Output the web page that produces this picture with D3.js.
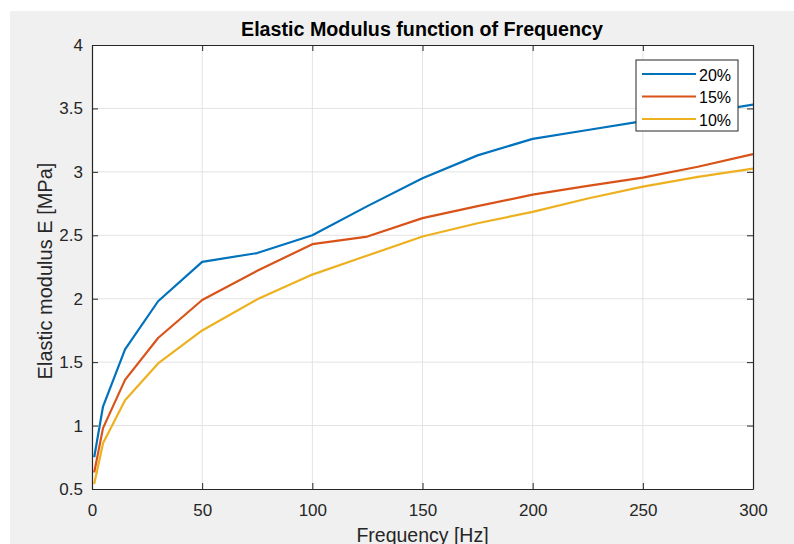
<!DOCTYPE html>
<html>
<head>
<meta charset="utf-8">
<script src="https://cdn.jsdelivr.net/npm/d3@7"></script>
<style>
  body { margin: 0; background: #fff; }
  svg { display: block; font-family: "Liberation Sans", Arial, sans-serif; }
</style>
</head>
<body>
<div id="chart"></div>
<script>
// Data
const frequency = [1, 5, 15, 30, 50, 75, 100, 125, 150, 175, 200, 225, 250, 275, 300];
const e20 = [0.75, 1.15, 1.60, 1.98, 2.29, 2.36, 2.50, 2.73, 2.95, 3.13, 3.26, 3.33, 3.40, 3.46, 3.53];
const e15 = [0.63, 0.98, 1.36, 1.69, 1.99, 2.22, 2.43, 2.49, 2.635, 2.73, 2.82, 2.89, 2.955, 3.04, 3.14];
const e10 = [0.54, 0.86, 1.20, 1.49, 1.75, 1.995, 2.19, 2.34, 2.49, 2.595, 2.685, 2.79, 2.883, 2.96, 3.025];
const seriesNames = ["20%", "15%", "10%"];
const seriesColors = ["#0072BD", "#D95319", "#EDB120"];
const xTicks = [0, 50, 100, 150, 200, 250, 300];
const yTicks = [0.5, 1, 1.5, 2, 2.5, 3, 3.5, 4];

const width = 794;
const height = 544;
const plot = { left: 92, top: 45, right: 753, bottom: 489 };

const svg = d3.select("#chart")
    .append("svg")
    .attr("width", width)
    .attr("height", height);

// figure background
svg.append("rect")
    .attr("x", 10).attr("y", 11)
    .attr("width", width - 10).attr("height", height - 11)
    .attr("fill", "#f0f0f0");

const x = d3.scaleLinear().domain([0, 300]).range([plot.left, plot.right]);
const y = d3.scaleLinear().domain([0.5, 4]).range([plot.bottom, plot.top]);

svg.append("rect")
    .attr("x", plot.left).attr("y", plot.top)
    .attr("width", plot.right - plot.left).attr("height", plot.bottom - plot.top)
    .attr("fill", "#fff");

// grid
const grid = svg.append("g").attr("stroke", "#e3e3e3").attr("stroke-width", 1);
grid.selectAll("line.vx")
    .data(xTicks.slice(1, -1))
    .join("line")
    .attr("x1", d => x(d)).attr("x2", d => x(d))
    .attr("y1", plot.top).attr("y2", plot.bottom);
grid.selectAll("line.hy")
    .data(yTicks.slice(1, -1))
    .join("line")
    .attr("y1", d => y(d)).attr("y2", d => y(d))
    .attr("x1", plot.left).attr("x2", plot.right);

// lines
const line = d3.line()
    .x((d, i) => x(frequency[i]))
    .y(d => y(d));

[e20, e15, e10].forEach((vals, k) => {
    svg.append("path")
        .datum(vals)
        .attr("fill", "none")
        .attr("stroke", seriesColors[k])
        .attr("stroke-width", 2.2)
        .attr("stroke-linejoin", "round")
        .attr("d", line);
});

// axes (ticks inward, box)
const axisColor = "#262626";
const xAxis = d3.axisBottom(x).tickValues(xTicks).tickSizeInner(-6).tickSizeOuter(0).tickPadding(15);
const yAxis = d3.axisLeft(y).tickValues(yTicks).tickSizeInner(-6).tickSizeOuter(0).tickPadding(9)
    .tickFormat(d3.format("~g"));

const gx = svg.append("g").attr("transform", `translate(0,${plot.bottom})`).call(xAxis);
const gy = svg.append("g").attr("transform", `translate(${plot.left},0)`).call(yAxis);
const gxTop = svg.append("g").attr("transform", `translate(0,${plot.top})`)
    .call(d3.axisTop(x).tickValues(xTicks).tickSizeInner(-6).tickSizeOuter(0).tickFormat(""));
const gyRight = svg.append("g").attr("transform", `translate(${plot.right},0)`)
    .call(d3.axisRight(y).tickValues(yTicks).tickSizeInner(-6).tickSizeOuter(0).tickFormat(""));

[gx, gy, gxTop, gyRight].forEach(g => {
    g.selectAll("path.domain").attr("stroke", axisColor).attr("stroke-width", 1.2);
    g.selectAll(".tick line").attr("stroke", axisColor);
    g.selectAll(".tick text").attr("fill", axisColor).style("font-size", "17px");
});

// title
svg.append("text")
    .attr("x", 422)
    .attr("y", 36)
    .attr("text-anchor", "middle")
    .attr("font-weight", "bold")
    .attr("font-size", 20)
    .attr("textLength", 362)
    .attr("lengthAdjust", "spacingAndGlyphs")
    .attr("fill", "#000")
    .text("Elastic Modulus function of Frequency");

// axis labels
svg.append("text")
    .attr("x", (plot.left + plot.right) / 2)
    .attr("y", 542)
    .attr("text-anchor", "middle")
    .attr("font-size", 19.5)
    .attr("fill", axisColor)
    .text("Frequency [Hz]");

svg.append("text")
    .attr("transform", `translate(52,271) rotate(-90)`)
    .attr("text-anchor", "middle")
    .attr("font-size", 20)
    .attr("fill", axisColor)
    .text("Elastic modulus E [MPa]");

// legend
const legend = svg.append("g").attr("transform", "translate(636,60)");
legend.append("rect")
    .attr("width", 102).attr("height", 71)
    .attr("fill", "#fff")
    .attr("stroke", axisColor)
    .attr("stroke-width", 1);
seriesNames.forEach((name, i) => {
    const yy = 14 + i * 22.5;
    legend.append("line")
        .attr("x1", 6).attr("x2", 60)
        .attr("y1", yy).attr("y2", yy)
        .attr("stroke", seriesColors[i])
        .attr("stroke-width", 2.2);
    legend.append("text")
        .attr("x", 63).attr("y", yy + 6.5)
        .attr("font-size", 16)
        .attr("fill", "#000")
        .text(name);
});
</script>
</body>
</html>
